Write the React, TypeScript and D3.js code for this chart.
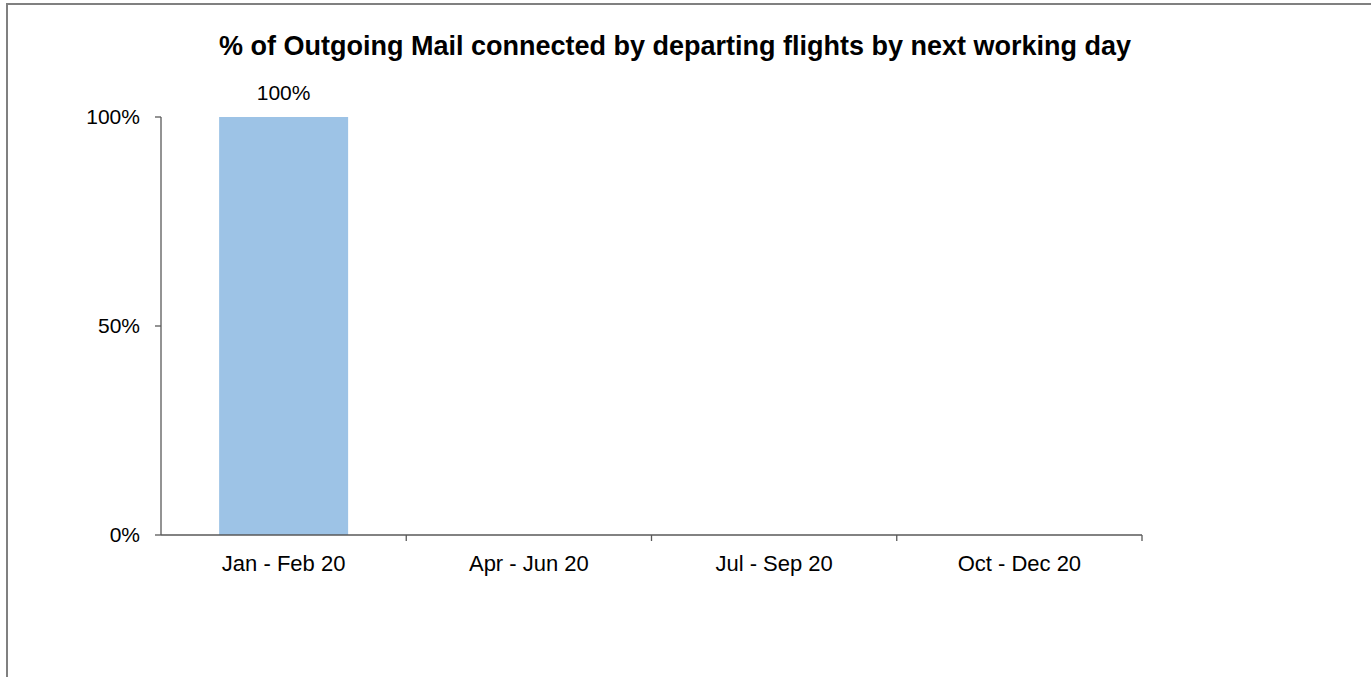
import React from "react";
import * as d3 from "d3";

const categories = ["Jan - Feb 20", "Apr - Jun 20", "Jul - Sep 20", "Oct - Dec 20"];
const values: (number | null)[] = [100, null, null, null];
const yTicks = [0, 50, 100];
const title = "% of Outgoing Mail connected by departing flights by next working day";

export default function App() {
  const W = 1371, H = 677;
  const left = 161, right = 1142, top = 117, bottom = 535;
  const x = d3.scaleBand<string>().domain(categories).range([left, right]).paddingInner(0.474).paddingOuter(0.237);
  const xb = d3.scaleBand<string>().domain(categories).range([left, right]);
  const y = d3.scaleLinear().domain([0, 100]).range([bottom, top]);
  const font = "Arial, 'Liberation Sans', sans-serif";
  return (
    <svg width={W} height={H} style={{ position: "absolute", left: 0, top: 0 }} fontFamily={font}>
      <rect x={0} y={0} width={W} height={H} fill="#fff" />
      <rect x={7} y={4} width={W + 10} height={H + 10} fill="none" stroke="#808080" strokeWidth={2} />
      <text x={675} y={55} textAnchor="middle" fontSize={27} fontWeight="bold" fill="#000">{title}</text>
      {categories.map((c, i) => {
        const v = values[i];
        if (v == null) return null;
        return (
          <g key={c}>
            <rect x={x(c)} y={y(v)} width={x.bandwidth()} height={y(0) - y(v)} fill="#9dc3e6" />
            <text x={x(c)! + x.bandwidth() / 2} y={y(v) - 17} textAnchor="middle" fontSize={21} fill="#000">{v}%</text>
          </g>
        );
      })}
      <line x1={left} x2={left} y1={top} y2={bottom} stroke="#595959" strokeWidth={1.3} />
      {yTicks.map((t) => (
        <g key={t}>
          <line x1={left - 6} x2={left} y1={y(t)} y2={y(t)} stroke="#595959" strokeWidth={1.3} />
          <text x={left - 21} y={y(t)} dy="0.35em" textAnchor="end" fontSize={21} fill="#000">{t}%</text>
        </g>
      ))}
      <line x1={left} x2={right} y1={bottom} y2={bottom} stroke="#595959" strokeWidth={1.3} />
      {categories.map((c) => (
        <g key={c}>
          <line x1={xb(c)! + xb.bandwidth()} x2={xb(c)! + xb.bandwidth()} y1={bottom} y2={bottom + 6} stroke="#595959" strokeWidth={1.3} />
          <text x={xb(c)! + xb.bandwidth() / 2} y={571} textAnchor="middle" fontSize={22} fill="#000">{c}</text>
        </g>
      ))}
    </svg>
  );
}
